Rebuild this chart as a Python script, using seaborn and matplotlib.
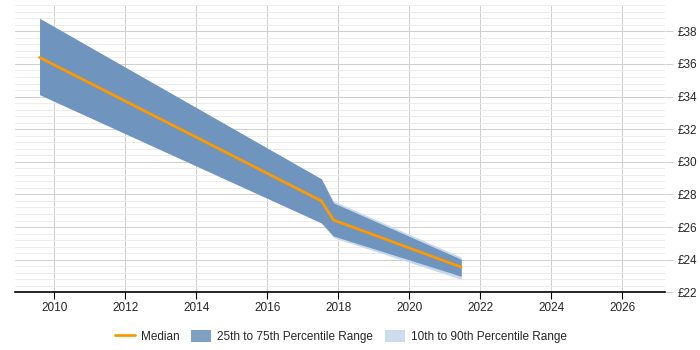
import matplotlib
matplotlib.use("Agg")
import matplotlib.pyplot as plt
import seaborn as sns
import numpy as np
import pandas as pd
from matplotlib.patches import Patch
from matplotlib.lines import Line2D
from matplotlib.ticker import MultipleLocator, FuncFormatter

years = [2009.58, 2017.52, 2017.86, 2021.46]
median = [36.4, 27.6, 26.43, 23.54]
p25 = [34.12, 26.25, 25.45, 22.98]
p75 = [38.8, 28.95, 27.48, 24.02]
p10 = [34.12, 26.25, 25.35, 22.8]
p90 = [38.8, 28.95, 27.6, 24.15]

legend_labels = ["Median", "25th to 75th Percentile Range", "10th to 90th Percentile Range"]

df = pd.DataFrame({"year": years, "median": median})

sns.set_style("white")
plt.rcParams['font.family'] = ['Liberation Sans', 'DejaVu Sans']

fig = plt.figure(figsize=(7, 3.5), dpi=100)
ax = fig.add_axes([0.022, 0.165, 0.928, 0.82])

ax.fill_between(years, p10, p90, color="#c6d9ec", lw=0, zorder=2)
ax.fill_between(years, p25, p75, color="#6f94bd", lw=0, zorder=3)
sns.lineplot(data=df, x="year", y="median", ax=ax, color="#ff9900", lw=2, zorder=4)

ax.set_xlim(2008.9, 2027.2)
ax.set_ylim(22, 39.6)
ax.xaxis.set_major_locator(MultipleLocator(2))
ax.yaxis.set_major_locator(MultipleLocator(2))
ax.yaxis.set_minor_locator(MultipleLocator(0.4))
ax.yaxis.tick_right()
ax.yaxis.set_major_formatter(FuncFormatter(lambda v, p: f"£{int(round(v))}"))
ax.grid(which="major", axis="both", color="#cfcfcf", lw=0.7, zorder=0)
ax.grid(which="minor", axis="y", color="#ececec", lw=0.7, zorder=0)
ax.set_axisbelow(True)
for s in ["top", "right", "left"]:
    ax.spines[s].set_visible(False)
ax.spines["bottom"].set_color("black")
ax.spines["bottom"].set_linewidth(1.2)
ax.tick_params(axis="x", which="major", length=5, color="black", labelsize=8.5, pad=2, bottom=True)
ax.tick_params(axis="y", which="major", length=6, width=0.7, color="#cfcfcf", labelsize=8.5, pad=3)
ax.tick_params(axis="y", which="minor", length=0)
ax.set_xlabel("")
ax.set_ylabel("")

handles = [Line2D([0], [0], color="#ff9900", lw=2),
           Patch(facecolor="#7f9fc4", edgecolor="none"),
           Patch(facecolor="#ccdcec", edgecolor="none")]
fig.legend(handles, legend_labels, loc="lower center", ncol=3, frameon=False,
           fontsize=8.5, bbox_to_anchor=(0.487, -0.01), handlelength=1.7, handleheight=1.1,
           columnspacing=1.0, handletextpad=0.5)

fig.savefig("out.png", dpi=100)
